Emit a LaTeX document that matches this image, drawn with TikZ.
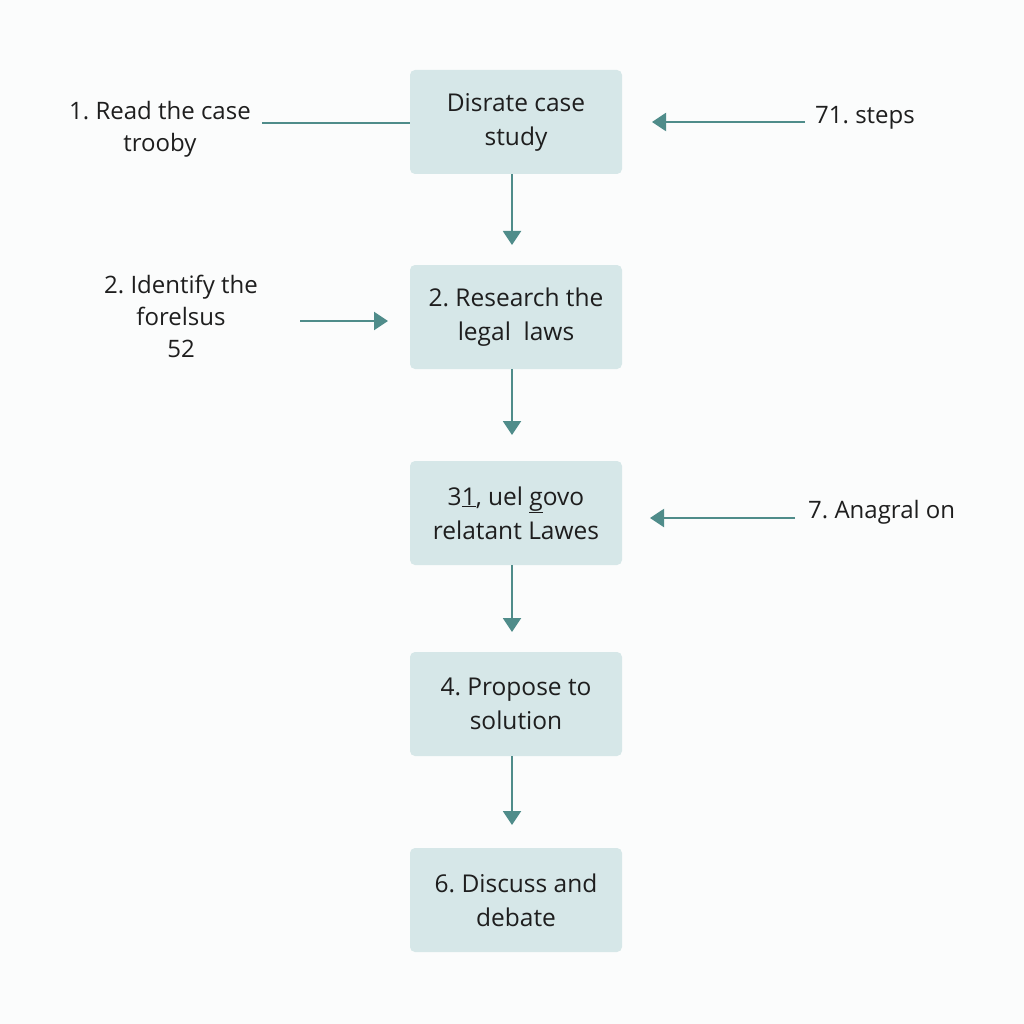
\documentclass[tikz,border=0pt]{standalone}
\usepackage{fontspec}
\setmainfont{Open Sans}
\usetikzlibrary{arrows.meta}
\definecolor{boxfill}{HTML}{D6E7E8}
\definecolor{arr}{HTML}{4F8C8A}
\definecolor{bg}{HTML}{FBFCFC}
\definecolor{txt}{HTML}{1E1E1E}
\tikzset{
  stepbox/.style={fill=boxfill, rounded corners=5pt, minimum width=212pt, minimum height=104pt, align=center, font=\frenchspacing\fontsize{24.5}{34}\selectfont, text=txt, inner sep=0pt},
  lbl/.style={align=center, font=\frenchspacing\fontsize{24}{32}\selectfont, text=txt, inner sep=0pt},
  conn/.style={draw=arr, line width=2pt},
  arrow/.style={conn, -{Triangle[length=14pt, width=18pt]}},
}
\begin{document}
\begin{tikzpicture}[x=1pt, y=-1pt]
\fill[bg] (0,0) rectangle (1024,1024);
\useasboundingbox (0,0) rectangle (1024,1024);
\node[stepbox] (b1) at (516,122) {Disrate case\\study};
\node[stepbox] (b2) at (516,317) {2. Research the\\legal\ \ laws};
\node[stepbox] (b3) at (516,513) {3\underline{1}, uel \underline{g}ovo\\relatant Lawes};
\node[stepbox] (b4) at (516,704) {4. Propose to\\solution};
\node[stepbox] (b5) at (516,900) {6. Discuss and\\debate};
\coordinate (a1) at (512,245);
\coordinate (a2) at (512,435);
\coordinate (a3) at (512,632);
\coordinate (a4) at (512,825);
\draw[arrow] (b1.south -| a1) -- (a1);
\draw[arrow] (b2.south -| a2) -- (a2);
\draw[arrow] (b3.south -| a3) -- (a3);
\draw[arrow] (b4.south -| a4) -- (a4);
\node[lbl] (l1) at (160,129) {1. Read the case\\trooby};
\coordinate (l1e) at (262,123);
\draw[conn] (l1e) -- (l1e -| b1.west);
\node[lbl] (l2) at (181,316) {2. Identify the\\forelsus\\52};
\coordinate (l2s) at (300,321);
\coordinate (l2e) at (388,321);
\draw[arrow] (l2s) -- (l2e);
\node[lbl, anchor=west] (r1) at (815,118) {71. steps};
\coordinate (r1s) at (805,122);
\coordinate (r1e) at (652,122);
\draw[arrow] (r1s) -- (r1e);
\node[lbl, anchor=west] (r2) at (808,512) {7. Anagral on};
\coordinate (r2s) at (795,518);
\coordinate (r2e) at (650,518);
\draw[arrow] (r2s) -- (r2e);
\end{tikzpicture}
\end{document}
